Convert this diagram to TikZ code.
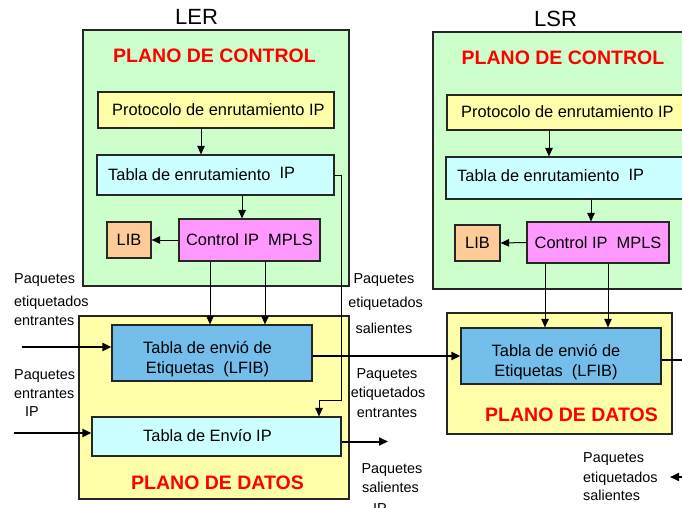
\documentclass[tikz,border=0pt]{standalone}
\usepackage{fontspec}
\setmainfont{Liberation Sans}
\usetikzlibrary{arrows.meta}
\definecolor{cgreen}{RGB}{204,255,204}
\definecolor{cyel}{RGB}{255,255,170}
\definecolor{cproto}{RGB}{255,255,170}
\definecolor{ccyan}{RGB}{204,255,255}
\definecolor{cmpls}{RGB}{255,153,255}
\definecolor{clib}{RGB}{255,204,153}
\definecolor{clfib}{RGB}{115,190,235}
\begin{document}
\begin{tikzpicture}[x=1pt,y=-1pt,
  box/.style={draw=black!85, line width=1.2pt, inner sep=0pt},
  txt/.style={font=\fontsize{16.4}{20}\selectfont, inner sep=0pt},
  lbl/.style={font=\fontsize{14.4}{17}\selectfont, inner sep=0pt},
  ttl/.style={font=\fontsize{19.5}{22}\selectfont\bfseries, text=red, inner sep=0pt, anchor=base},
  hdr/.style={font=\fontsize{22}{24}\selectfont, inner sep=0pt, anchor=base},
  conn/.style={line width=1pt, -{Triangle[length=8.5pt,width=7.5pt]}},
  flow/.style={line width=2pt, -{Triangle[length=9pt,width=8pt]}},
]
\useasboundingbox (0,0) rectangle (682,508);
\fill[white] (0,0) rectangle (682,508);

% ---------- LER ----------
\node[hdr] (lerT) at (196.5,25) {LER};
\node[box, fill=cgreen, minimum width=266pt, minimum height=256pt] (ctrlL) at (216,158) {};
\node[box, fill=cyel, minimum width=270pt, minimum height=183pt] (dataL) at (214,407.5) {};
\node[ttl] (pcL) at (214.5,63) {PLANO DE CONTROL};
\node[ttl] (pdL) at (217.5,489) {PLANO DE DATOS};

\node[box, fill=cproto, minimum width=236pt, minimum height=36pt] (protoL) at (216,110) {};
\node[txt, anchor=base west] (protoLt) at (112,115.5) {Protocolo de enrutamiento IP};
\node[box, fill=ccyan, minimum width=237pt, minimum height=40pt] (tablaL) at (215.5,175) {};
\node[txt, anchor=base west] (tablaLt) at (108,180) {Tabla de enrutamiento\ \ \raisebox{1.5pt}{IP}};
\node[box, txt, fill=cmpls, minimum width=141pt, minimum height=42pt] (mplsL) at (249.5,240) {Control IP\ \ MPLS};
\node[box, txt, fill=clib, minimum width=44pt, minimum height=36pt] (libL) at (129,240) {LIB};

\node[box, fill=clfib, minimum width=200pt, minimum height=56pt] (lfibL) at (212,353) {};
\node[txt, anchor=base] (lfibLa) at (207.5,353.3) {Tabla de envió de};
\node[txt, anchor=base] (lfibLb) at (207.5,373.3) {Etiquetas\ \ (LFIB)};
\node[box, fill=ccyan, minimum width=249pt, minimum height=39pt] (ipL) at (216.5,436.5) {};
\node[txt, anchor=base west] (ipLt) at (143,441.5) {Tabla de Envío IP};

% ---------- LSR ----------
\node[hdr] (lsrT) at (555.5,27) {LSR};
\node[box, fill=cgreen, minimum width=267pt, minimum height=257pt] (ctrlR) at (566.5,160.5) {};
\node[box, fill=cyel, minimum width=225pt, minimum height=121pt] (dataR) at (559.5,373.5) {};
\node[ttl] (pcR) at (563,65) {PLANO DE CONTROL};
\node[ttl] (pdR) at (571.5,421) {PLANO DE DATOS};

\node[box, fill=cproto, minimum width=253pt, minimum height=35pt] (protoR) at (573.5,112.5) {};
\node[txt, anchor=base west] (protoRt) at (461,117.7) {Protocolo de enrutamiento IP};
\node[box, fill=ccyan, minimum width=254pt, minimum height=42pt] (tablaR) at (573,178) {};
\node[txt, anchor=base west] (tablaRt) at (457,181.7) {Tabla de enrutamiento\ \ \raisebox{1.5pt}{IP}};
\node[box, txt, fill=cmpls, minimum width=142pt, minimum height=41pt] (mplsR) at (598,242.5) {Control IP\ \ MPLS};
\node[box, txt, fill=clib, minimum width=45pt, minimum height=36pt] (libR) at (477.5,243) {LIB};

\node[box, fill=clfib, minimum width=200pt, minimum height=56pt] (lfibR) at (561,356) {};
\node[txt, anchor=base] (lfibRa) at (556,356) {Tabla de envió de};
\node[txt, anchor=base] (lfibRb) at (556,376.5) {Etiquetas\ \ (LFIB)};

% ---------- labels ----------
\node[lbl, anchor=base west] (l1a) at (14,283) {Paquetes};
\node[lbl, anchor=base west] (l1b) at (14,306) {etiquetados};
\node[lbl, anchor=base west] (l1c) at (14,325) {entrantes};
\node[lbl, anchor=base west] (l2a) at (14,379) {Paquetes};
\node[lbl, anchor=base west] (l2b) at (14,398) {entrantes};
\node[lbl, anchor=base west] (l2c) at (25,416) {IP};
\node[lbl, anchor=base] (l3a) at (384,283) {Paquetes};
\node[lbl, anchor=base] (l3b) at (385.5,307) {etiquetados};
\node[lbl, anchor=base] (l3c) at (384,333) {salientes};
\node[lbl, anchor=base] (l4a) at (387,378) {Paquetes};
\node[lbl, anchor=base] (l4b) at (388,397) {etiquetados};
\node[lbl, anchor=base] (l4c) at (387,417) {entrantes};
\node[lbl, anchor=base] (l5a) at (392,473) {Paquetes};
\node[lbl, anchor=base] (l5b) at (390.5,492) {salientes};
\node[lbl, anchor=base west] (l5c) at (373,513) {IP};
\node[lbl, anchor=base west] (l6a) at (583,462) {Paquetes};
\node[lbl, anchor=base west] (l6b) at (583,482) {etiquetados};
\node[lbl, anchor=base west] (l6c) at (583,500) {salientes};

% ---------- connectors LER ----------
\coordinate (x1) at (201,0);
\coordinate (x2) at (242,0);
\coordinate (x3) at (210,0);
\coordinate (x4) at (265,0);
\draw[conn] (protoL.south -| x1) -- (tablaL.north -| x1);
\draw[conn] (tablaL.south -| x2) -- (mplsL.north -| x2);
\draw[conn] (mplsL.west) -- (libL.east);
\draw[conn] (mplsL.south -| x3) -- (lfibL.north -| x3);
\draw[conn] (mplsL.south -| x4) -- (lfibL.north -| x4);
\coordinate (k1) at (341,400);
\coordinate (k2) at (319,400);
\draw[conn] (tablaL.east) -| (k1) -- (k2) -- (k2 |- ipL.north);

% ---------- connectors LSR ----------
\coordinate (x5) at (549,0);
\coordinate (x6) at (591,0);
\coordinate (x7) at (545,0);
\coordinate (x8) at (608,0);
\draw[conn] (protoR.south -| x5) -- (tablaR.north -| x5);
\draw[conn] (tablaR.south -| x6) -- (mplsR.north -| x6);
\draw[conn] (mplsR.west) -- (libR.east);
\draw[conn] (mplsR.south -| x7) -- (lfibR.north -| x7);
\draw[conn] (mplsR.south -| x8) -- (lfibR.north -| x8);

% ---------- data flows ----------
\coordinate (a1) at (22,347);
\draw[flow] (a1) -- (a1 -| lfibL.west);
\coordinate (a2) at (14,433);
\draw[flow] (a2) -- (a2 -| ipL.west);
\draw[flow] (lfibL.east |- lfibR.west) -- (lfibR.west);
\coordinate (o1) at (690,360);
\draw[line width=2pt] (o1 -| lfibR.east) -- (o1);
\coordinate (o2) at (388,441.5);
\draw[flow] (o2 -| ipL.east) -- (o2);
\coordinate (o3a) at (690,477);
\coordinate (o3b) at (670,477);
\draw[flow] (o3a) -- (o3b);
\end{tikzpicture}
\end{document}
